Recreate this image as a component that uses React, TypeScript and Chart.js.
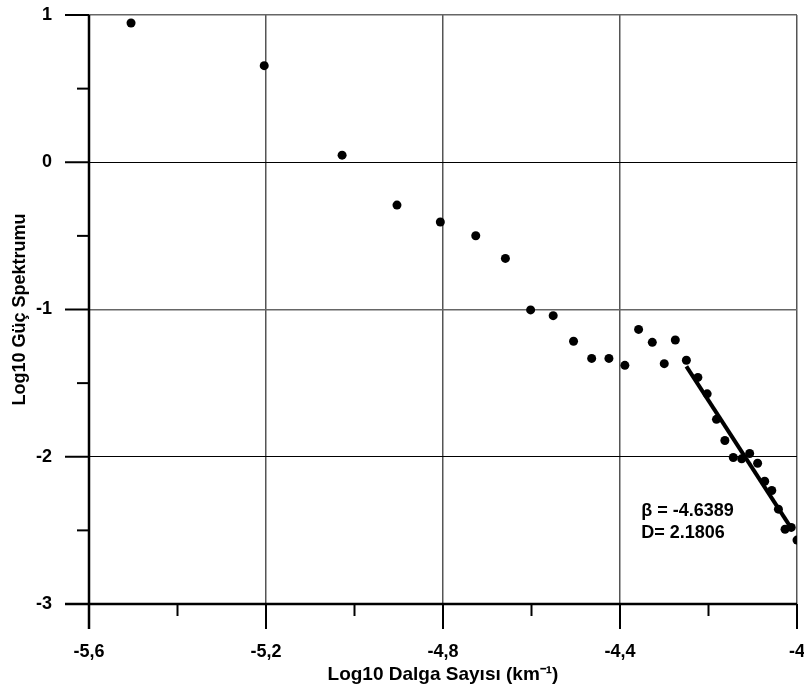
import React, { useEffect, useRef } from "react";
import { Chart, registerables } from "chart.js";

Chart.register(...registerables);

// Spectrum points (log10 wavenumber, log10 power)
const waveNumberLog = [
  -5.505, -5.204, -5.028, -4.904, -4.806, -4.726, -4.659, -4.602, -4.551, -4.505,
  -4.464, -4.425, -4.389, -4.358, -4.327, -4.3, -4.275, -4.25, -4.224, -4.203,
  -4.182, -4.163, -4.144, -4.125, -4.107, -4.089, -4.073, -4.057, -4.042, -4.027,
  -4.013, -4.0,
];
const powerLog = [
  0.946, 0.656, 0.048, -0.291, -0.406, -0.499, -0.653, -1.003, -1.042, -1.216,
  -1.332, -1.332, -1.379, -1.135, -1.223, -1.368, -1.207, -1.345, -1.461, -1.573,
  -1.746, -1.89, -2.005, -2.014, -1.978, -2.044, -2.166, -2.229, -2.356, -2.492,
  -2.48, -2.566,
];
// Regression line end points
const fitX = [-4.25, -4.016];
const fitY = [-1.386, -2.471];

const xMajorTicks = [-5.6, -5.2, -4.8, -4.4, -4.0];
const xMinorTicks = [-5.4, -5.0, -4.6, -4.2];
const yMajorTicks = [1, 0, -1, -2, -3];
const yMinorTicks = [0.5, -0.5, -1.5, -2.5];

const annotationLines = ["\u03B2 = -4.6389", "D= 2.1806"];

const FONT = "'Liberation Sans', Arial, sans-serif";

const axesPlugin = {
  id: "customAxes",
  afterDatasetsDraw(chart: any) {
    const { ctx, chartArea } = chart;
    const xs = chart.scales.x;
    const ys = chart.scales.y;
    ctx.save();
    ctx.strokeStyle = "#000";
    ctx.lineCap = "butt";
    // left axis
    ctx.lineWidth = 2.5;
    ctx.beginPath();
    ctx.moveTo(chartArea.left, chartArea.top);
    ctx.lineTo(chartArea.left, chartArea.bottom + 25);
    ctx.stroke();
    // bottom axis
    ctx.beginPath();
    ctx.moveTo(chartArea.left - 24, chartArea.bottom);
    ctx.lineTo(chartArea.right, chartArea.bottom);
    ctx.stroke();
    ctx.lineWidth = 2;
    xMajorTicks.forEach((v) => {
      const px = xs.getPixelForValue(v);
      ctx.beginPath();
      ctx.moveTo(px, chartArea.bottom);
      ctx.lineTo(px, chartArea.bottom + 25);
      ctx.stroke();
    });
    xMinorTicks.forEach((v) => {
      const px = xs.getPixelForValue(v);
      ctx.beginPath();
      ctx.moveTo(px, chartArea.bottom);
      ctx.lineTo(px, chartArea.bottom + 12);
      ctx.stroke();
    });
    yMajorTicks.forEach((v) => {
      const py = ys.getPixelForValue(v);
      ctx.beginPath();
      ctx.moveTo(chartArea.left - 24, py);
      ctx.lineTo(chartArea.left, py);
      ctx.stroke();
    });
    yMinorTicks.forEach((v) => {
      const py = ys.getPixelForValue(v);
      ctx.beginPath();
      ctx.moveTo(chartArea.left - 12, py);
      ctx.lineTo(chartArea.left, py);
      ctx.stroke();
    });
    // annotation
    ctx.fillStyle = "#000";
    ctx.font = `bold 18px ${FONT}`;
    ctx.textAlign = "left";
    ctx.textBaseline = "alphabetic";
    const ax = xs.getPixelForValue(-4.352);
    const ay = ys.getPixelForValue(-2.404);
    annotationLines.forEach((t, i) => {
      ctx.fillText(t, ax, ay + i * 21.6);
    });
    ctx.restore();
  },
};

export default function App() {
  const canvasRef = useRef<HTMLCanvasElement | null>(null);

  useEffect(() => {
    if (!canvasRef.current) return;
    const chart = new Chart(canvasRef.current, {
      type: "scatter",
      data: {
        datasets: [
          {
            type: "line",
            data: fitX.map((x, i) => ({ x, y: fitY[i] })),
            borderColor: "#000",
            borderWidth: 4,
            pointRadius: 0,
            fill: false,
          } as any,
          {
            data: waveNumberLog.map((x, i) => ({ x, y: powerLog[i] })),
            backgroundColor: "#000",
            borderColor: "#000",
            pointRadius: 4.5,
            pointBorderWidth: 0,
          },
        ],
      },
      options: {
        animation: false,
        responsive: true,
        maintainAspectRatio: false,
        layout: { padding: { top: 15, right: 7, left: 0, bottom: 0 } },
        plugins: {
          legend: { display: false },
          tooltip: { enabled: false },
        },
        scales: {
          x: {
            type: "linear",
            min: -5.6,
            max: -4,
            afterBuildTicks: (scale: any) => {
              scale.ticks = xMajorTicks.map((v) => ({ value: v }));
            },
            afterFit: (scale: any) => {
              scale.height = 85;
              scale.paddingLeft = 0;
              scale.paddingRight = 0;
            },
            border: { display: false },
            grid: {
              drawTicks: false,
              color: "#555",
              lineWidth: 1.5,
            },
            ticks: {
              padding: 37,
              maxRotation: 0,
              autoSkip: false,
              color: "#000",
              font: { family: FONT, size: 18, weight: "bold" },
              callback: (v: any) => String(Math.round(Number(v) * 10) / 10).replace(".", ","),
            },
            title: {
              display: true,
              text: "Log10 Dalga Sayısı (km\u207B\u00B9)",
              color: "#000",
              font: { family: FONT, size: 19, weight: "bold" },
              padding: { top: 0, bottom: 3 },
            },
          },
          y: {
            type: "linear",
            min: -3,
            max: 1,
            afterBuildTicks: (scale: any) => {
              scale.ticks = yMajorTicks.map((v) => ({ value: v }));
            },
            afterFit: (scale: any) => {
              scale.width = 89;
              scale.paddingTop = 0;
              scale.paddingBottom = 0;
            },
            border: { display: false },
            grid: {
              drawTicks: false,
              color: (c: any) => (c.tick && (c.tick.value === 0 || c.tick.value === -2) ? "#000" : "#666"),
              lineWidth: (c: any) => (c.tick && (c.tick.value === 0 || c.tick.value === -2) ? 1 : 1.5),
            },
            ticks: {
              padding: 37,
              autoSkip: false,
              color: "#000",
              font: { family: FONT, size: 18, weight: "bold" },
              callback: (v: any) => String(v),
            },
            title: {
              display: true,
              text: "Log10 Güç Spektrumu",
              color: "#000",
              font: { family: FONT, size: 18, weight: "bold" },
              padding: { top: 9, bottom: 0 },
            },
          },
        },
      },
      plugins: [axesPlugin],
    });
    return () => chart.destroy();
  }, []);

  return (
    <div style={{ position: "fixed", left: 0, top: 0, width: 804, height: 689, background: "#fff" }}>
      <canvas ref={canvasRef} />
    </div>
  );
}
